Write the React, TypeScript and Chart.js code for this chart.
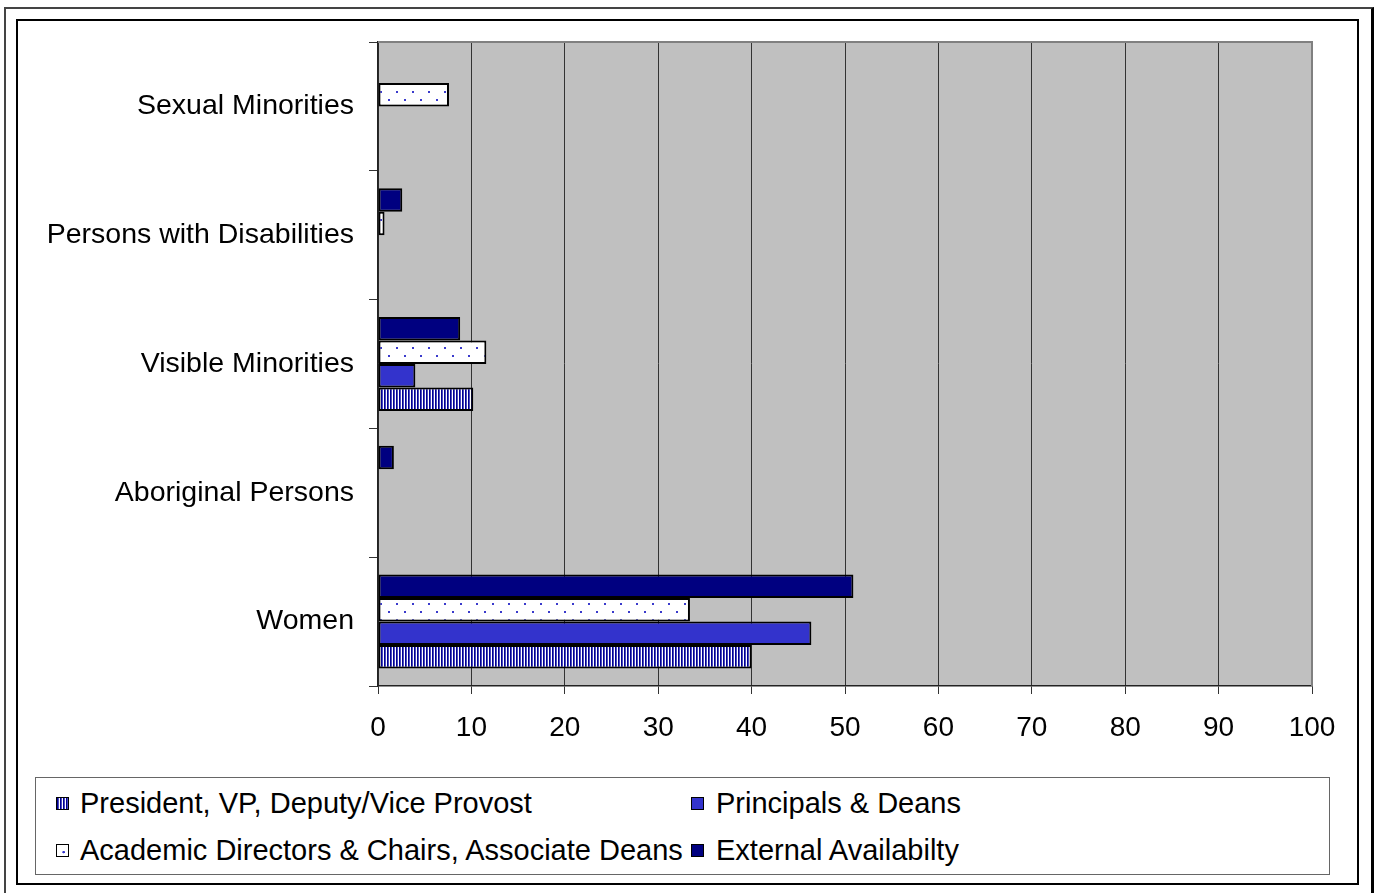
import React, { useEffect, useRef } from "react";
import { Chart, registerables } from "chart.js";

Chart.register(...registerables);

// ---- Data ----
const categories = [
  "Sexual Minorities",
  "Persons with Disabilities",
  "Visible Minorities",
  "Aboriginal Persons",
  "Women",
];
const externalAvailability: (number | null)[] = [null, 2.6, 8.8, 1.7, 50.9];
const academicDirectors: (number | null)[] = [7.6, 0.7, 11.6, null, 33.4];
const principalsDeans: (number | null)[] = [null, null, 4.0, null, 46.4];
const presidentVP: (number | null)[] = [null, null, 10.2, null, 40.0];

const labelPresident = "President, VP, Deputy/Vice Provost";
const labelPrincipals = "Principals & Deans";
const labelAcademic = "Academic Directors & Chairs, Associate Deans";
const labelExternal = "External Availabilty";

const xMin = 0;
const xMax = 100;
const xStep = 10;

const FONT = '"Liberation Sans", Arial, sans-serif';

function makeStripePattern(ctx: CanvasRenderingContext2D) {
  const c = document.createElement("canvas");
  c.width = 3;
  c.height = 4;
  const g = c.getContext("2d")!;
  g.fillStyle = "#000090";
  g.fillRect(0, 0, 1, 4);
  g.fillStyle = "#4b4bc0";
  g.fillRect(1, 0, 1, 4);
  g.fillStyle = "#ffffff";
  g.fillRect(2, 0, 1, 4);
  return ctx.createPattern(c, "repeat")!;
}

function makeDotPattern(ctx: CanvasRenderingContext2D) {
  const c = document.createElement("canvas");
  c.width = 16;
  c.height = 16;
  const g = c.getContext("2d")!;
  g.fillStyle = "#ffffff";
  g.fillRect(0, 0, 16, 16);
  g.fillStyle = "#3a3acc";
  g.fillRect(4, 3, 2, 2);
  g.fillRect(12, 11, 2, 2);
  return ctx.createPattern(c, "repeat")!;
}

const plotFrame = {
  id: "plotFrame",
  beforeDraw(chart: any) {
    const { ctx, chartArea: a } = chart;
    ctx.save();
    ctx.fillStyle = "#c0c0c0";
    ctx.fillRect(a.left, a.top, a.right - a.left, a.bottom - a.top);
    ctx.restore();
  },
  afterDraw(chart: any) {
    const { ctx, chartArea: a } = chart;
    ctx.save();
    ctx.strokeStyle = "#808080";
    ctx.lineWidth = 2;
    ctx.beginPath();
    ctx.moveTo(a.left, a.top);
    ctx.lineTo(a.right, a.top);
    ctx.lineTo(a.right, a.bottom);
    ctx.stroke();
    ctx.restore();
  },
};

export default function App() {
  const canvasRef = useRef<HTMLCanvasElement | null>(null);

  useEffect(() => {
    const canvas = canvasRef.current!;
    const ctx = canvas.getContext("2d")!;
    const stripes = makeStripePattern(ctx);
    const dots = makeDotPattern(ctx);

    const chart = new Chart(canvas, {
      type: "bar",
      data: {
        labels: categories,
        datasets: [
          {
            label: labelExternal,
            data: externalAvailability,
            backgroundColor: "#000080",
          },
          {
            label: labelAcademic,
            data: academicDirectors,
            backgroundColor: dots,
          },
          {
            label: labelPrincipals,
            data: principalsDeans,
            backgroundColor: "#3333cc",
          },
          {
            label: labelPresident,
            data: presidentVP,
            backgroundColor: stripes,
          },
        ] as any,
      },
      plugins: [plotFrame],
      options: {
        indexAxis: "y",
        animation: false,
        responsive: false,
        maintainAspectRatio: false,
        layout: { padding: { left: 0, right: 62, top: 42, bottom: 0 } },
        datasets: {
          bar: {
            categoryPercentage: 0.73,
            barPercentage: 1.0,
            borderColor: "#000000",
            borderWidth: 2,
            borderSkipped: false,
          },
        },
        plugins: {
          legend: { display: false },
          tooltip: { enabled: false },
          title: { display: false },
        },
        scales: {
          x: {
            type: "linear",
            min: xMin,
            max: xMax,
            ticks: {
              stepSize: xStep,
              color: "#000",
              padding: 17,
              font: { family: FONT, size: 28 },
            },
            grid: {
              color: (c: any) => (c.tick && c.tick.value === xMax ? "#808080" : "#333333"),
              lineWidth: 1,
              tickLength: 8,
              tickColor: "#333333",
              drawTicks: true,
            },
            border: { display: true, color: "#222222", width: 1.5 },
            afterFit(scale: any) {
              scale.height = 893 - 686;
            },
          },
          y: {
            type: "category",
            ticks: {
              color: "#000",
              padding: 15,
              font: { family: FONT, size: 28.5 },
            },
            grid: {
              offset: true,
              drawOnChartArea: false,
              drawTicks: true,
              tickLength: 9,
              tickColor: "#333333",
              color: "#333333",
            },
            border: { display: true, color: "#222222", width: 1.5 },
            afterFit(scale: any) {
              scale.width = 378;
            },
          },
        },
      } as any,
    });
    return () => chart.destroy();
  }, []);

  const markerBase: React.CSSProperties = {
    position: "absolute",
    width: 13,
    height: 13,
    border: "1px solid #000",
    boxSizing: "border-box",
  };
  // positions relative to the legend box (left 35, top 777)
  const legendItems = [
    {
      label: labelPresident,
      markerLeft: 20,
      textLeft: 44,
      cy: 25,
      style: {
        background:
          "repeating-linear-gradient(90deg, #000090 0px, #000090 1px, #4b4bc0 1px, #4b4bc0 2px, #ffffff 2px, #ffffff 3px)",
      },
    },
    {
      label: labelPrincipals,
      markerLeft: 655,
      textLeft: 680,
      cy: 25,
      style: { background: "#3333cc" },
    },
    {
      label: labelAcademic,
      markerLeft: 20,
      textLeft: 44,
      cy: 72,
      style: {
        background:
          "radial-gradient(circle at 60% 65%, #3333cc 0px, #3333cc 1px, transparent 1.5px), #ffffff",
      },
    },
    {
      label: labelExternal,
      markerLeft: 655,
      textLeft: 680,
      cy: 72,
      style: { background: "#000080" },
    },
  ];

  return (
    <div
      style={{
        position: "absolute",
        left: 0,
        top: 0,
        width: 1374,
        height: 893,
        overflow: "hidden",
        background: "#ffffff",
        fontFamily: FONT,
      }}
    >
      {/* outer frame */}
      <div
        style={{
          position: "absolute",
          left: 4,
          top: 7,
          width: 1370,
          height: 900,
          boxSizing: "border-box",
          borderTop: "2px solid #444",
          borderLeft: "2px solid #444",
          borderRight: "3px solid #000",
        }}
      />
      {/* inner frame */}
      <div
        style={{
          position: "absolute",
          left: 16,
          top: 19,
          width: 1343,
          height: 866,
          boxSizing: "border-box",
          border: "2.5px solid #000",
        }}
      />
      <canvas
        ref={canvasRef}
        width={1374}
        height={893}
        style={{ position: "absolute", left: 0, top: 0, width: 1374, height: 893 }}
      />
      {/* legend */}
      <div
        style={{
          position: "absolute",
          left: 35,
          top: 777,
          width: 1295,
          height: 98,
          boxSizing: "border-box",
          border: "1px solid #666",
          background: "#ffffff",
        }}
      >
        {legendItems.map((it) => (
          <React.Fragment key={it.label}>
            <div style={{ ...markerBase, left: it.markerLeft, top: it.cy - 6, ...it.style }} />
            <div
              style={{
                position: "absolute",
                left: it.textLeft,
                top: it.cy - 20,
                height: 40,
                lineHeight: "40px",
                whiteSpace: "nowrap",
                fontSize: 29,
                color: "#000",
              }}
            >
              {it.label}
            </div>
          </React.Fragment>
        ))}
      </div>
    </div>
  );
}
